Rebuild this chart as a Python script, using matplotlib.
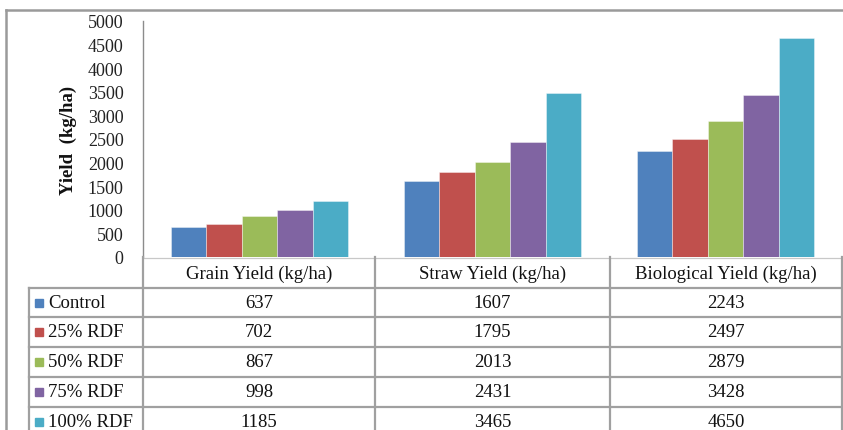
import matplotlib
matplotlib.use("Agg")
import matplotlib.pyplot as plt
from matplotlib.lines import Line2D
from matplotlib.patches import Rectangle
import numpy as np

categories = ["Grain Yield (kg/ha)", "Straw Yield (kg/ha)", "Biological Yield (kg/ha)"]
series_names = ["Control", "25% RDF", "50% RDF", "75% RDF", "100% RDF"]
control = [637, 1607, 2243]
rdf_25 = [702, 1795, 2497]
rdf_50 = [867, 2013, 2879]
rdf_75 = [998, 2431, 3428]
rdf_100 = [1185, 3465, 4650]
series_values = [control, rdf_25, rdf_50, rdf_75, rdf_100]
colors = ["#4F81BD", "#C0504D", "#9BBB59", "#8064A2", "#4BACC6"]
yticks = [0, 500, 1000, 1500, 2000, 2500, 3000, 3500, 4000, 4500, 5000]

plt.rcParams["font.family"] = ["Liberation Serif", "DejaVu Serif"]

W, H = 843, 431
fig = plt.figure(figsize=(W / 100, H / 100), dpi=100)

def fx(px):
    return px / W

def fy(py):
    return 1 - py / H

# layout in pixels
ax_left, ax_right = 143, 842
ax_top, ax_base = 22, 258
row_lines = [289, 318, 348, 378, 408, 438]
col_lines = [143, 375, 610, 842]
table_left = 29
grid_col = "#A0A0A0"
txt_col = "#111111"

ax = fig.add_axes([fx(ax_left), fy(ax_base), fx(ax_right - ax_left), (ax_base - ax_top) / H])
n = len(series_names)
bw = 0.1525
x = np.arange(len(categories)) + 0.5
for i, (name, vals, c) in enumerate(zip(series_names, series_values, colors)):
    ax.bar(x + (i - (n - 1) / 2) * bw, vals, width=bw, color=c,
           edgecolor=(1, 1, 1, 0.45), linewidth=0.6, label=name, zorder=2)

ax.set_xlim(0, len(categories))
ax.set_ylim(0, 5000)
ax.set_yticks(yticks)
ax.set_yticklabels([str(t) for t in yticks], fontsize=13, color="#222222")
ax.tick_params(axis="y", length=0, pad=14)
ax.set_xticks([])
for s in ["top", "right", "bottom"]:
    ax.spines[s].set_visible(False)
ax.spines["left"].set_color("#8C8C8C")
ax.spines["left"].set_linewidth(1.0)
ax.set_ylabel("Yield  (kg/ha)", fontsize=13.5, fontweight="bold", color=txt_col)
ax.yaxis.set_label_coords(-(143 - 77) / (ax_right - ax_left), 0.5)

def hline(y, x0, x1, color=grid_col, lw=1.6):
    fig.add_artist(Line2D([fx(x0), fx(x1)], [fy(y), fy(y)], color=color, lw=lw))

def vline(xp, y0, y1, color=grid_col, lw=1.6):
    fig.add_artist(Line2D([fx(xp), fx(xp)], [fy(y0), fy(y1)], color=color, lw=lw))

# outer frame
hline(10.5, 5.5, 843, color="#9A9A9A", lw=1.8)
vline(5.5, 10.5, 431, color="#9A9A9A", lw=1.8)

# baseline of plot / top of category row
hline(ax_base + 0.5, ax_left, ax_right, color="#C8C8C8", lw=0.9)

# data table grid
for y in row_lines[:-1]:
    hline(y, table_left, ax_right)
vline(table_left, row_lines[0], H)
vline(ax_left, ax_base, H)
for xp in col_lines[1:]:
    vline(xp, ax_base, H)

# category headers
col_centers = [(col_lines[j] + col_lines[j + 1]) / 2 for j in range(len(categories))]
for cx, cat in zip(col_centers, categories):
    fig.text(fx(cx), fy(274), cat, ha="center", va="center", fontsize=13.5, color=txt_col)

# legend keys, series names and values
for r, (name, vals, c) in enumerate(zip(series_names, series_values, colors)):
    cy = (row_lines[r] + row_lines[r + 1]) / 2
    fig.add_artist(Rectangle((fx(34.5), fy(cy + 4)), fx(8), 8 / H, color=c,
                             transform=fig.transFigure))
    fig.text(fx(48), fy(cy), name, ha="left", va="center", fontsize=13.5, color=txt_col)
    for cx, v in zip(col_centers, vals):
        fig.text(fx(cx), fy(cy), str(v), ha="center", va="center", fontsize=13.5, color=txt_col)

fig.savefig("out.png", dpi=100)
